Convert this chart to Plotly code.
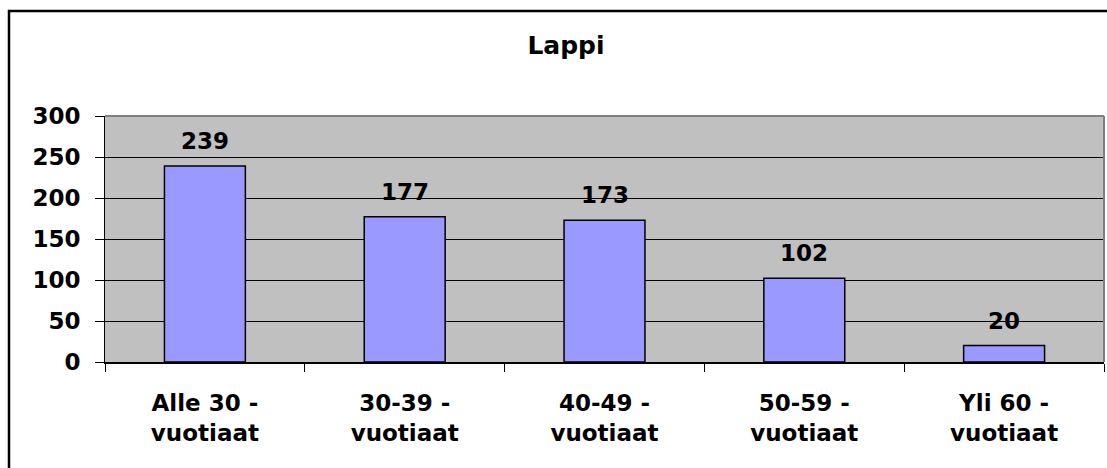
import plotly.graph_objects as go

# Age groups and their counts
categories = ["Alle 30 -<br>vuotiaat", "30-39 -<br>vuotiaat", "40-49 -<br>vuotiaat",
              "50-59 -<br>vuotiaat", "Yli 60 -<br>vuotiaat"]
values = [239, 177, 173, 102, 20]
y_ticks = [0, 50, 100, 150, 200, 250, 300]

FONT = "DejaVu Sans"
LABEL_SIZE = 23

fig = go.Figure(
    go.Bar(
        x=categories,
        y=values,
        marker=dict(color="#9999FF", line=dict(color="#000000", width=1.5)),
        hoverinfo="skip",
    )
)

# Value labels above each bar
for cat, val in zip(categories, values):
    fig.add_annotation(
        x=cat, y=val, xref="x", yref="y",
        text=f"<b>{val}</b>", showarrow=False,
        yanchor="bottom", yshift=10,
        font=dict(family=FONT, size=LABEL_SIZE, color="#000000"),
    )

W, H = 1107, 468
L, R, T, B = 105, 3, 116, 106
pw, ph = W - L - R, H - T - B

def px_x(v):
    return (v - L) / pw

def px_y(v):
    return (H - B - v) / ph

fig.update_layout(
    width=W, height=H,
    margin=dict(l=L, r=R, t=T, b=B),
    paper_bgcolor="#FFFFFF",
    plot_bgcolor="#C0C0C0",
    bargap=0.595,
    showlegend=False,
    title=dict(
        text="<b>Lappi</b>",
        font=dict(family=FONT, size=25, color="#000000"),
        xref="paper", x=px_x(566), xanchor="center",
        yref="container", y=1 - 45 / H, yanchor="middle",
    ),
    font=dict(family=FONT, size=LABEL_SIZE, color="#000000"),
)

fig.update_yaxes(
    range=[0, 300],
    tickvals=y_ticks,
    ticktext=[f"<b>{t}</b>" for t in y_ticks],
    ticks="outside", ticklen=9, tickcolor="#000000", tickwidth=1,
    ticklabelstandoff=10,
    showgrid=True, gridcolor="#000000", gridwidth=1,
    showline=True, linecolor="#000000", linewidth=1,
    zeroline=False,
    tickfont=dict(family=FONT, size=LABEL_SIZE, color="#000000"),
    fixedrange=True,
)

fig.update_xaxes(
    tickvals=categories,
    ticktext=[f"<b>{c}</b>" for c in categories],
    tickson="boundaries",
    ticks="outside", ticklen=8, tickcolor="#000000", tickwidth=1,
    ticklabelstandoff=20,
    showgrid=False,
    showline=True, linecolor="#000000", linewidth=1.5,
    tickfont=dict(family=FONT, size=LABEL_SIZE, color="#000000"),
    fixedrange=True,
)

# Plot-area frame (top and right edges in gray)
fig.add_shape(type="line", xref="paper", yref="paper", x0=0, x1=1, y0=1, y1=1,
              line=dict(color="#808080", width=2), layer="above")
fig.add_shape(type="line", xref="paper", yref="paper", x0=1, x1=1, y0=0, y1=1,
              line=dict(color="#808080", width=2), layer="above")

# Outer chart frame
fig.add_shape(type="rect", xref="paper", yref="paper",
              x0=px_x(9), x1=px_x(W + 20), y0=px_y(H + 20), y1=px_y(11),
              line=dict(color="#000000", width=2.5), fillcolor="rgba(0,0,0,0)",
              layer="above")

fig.write_html("out.html")
